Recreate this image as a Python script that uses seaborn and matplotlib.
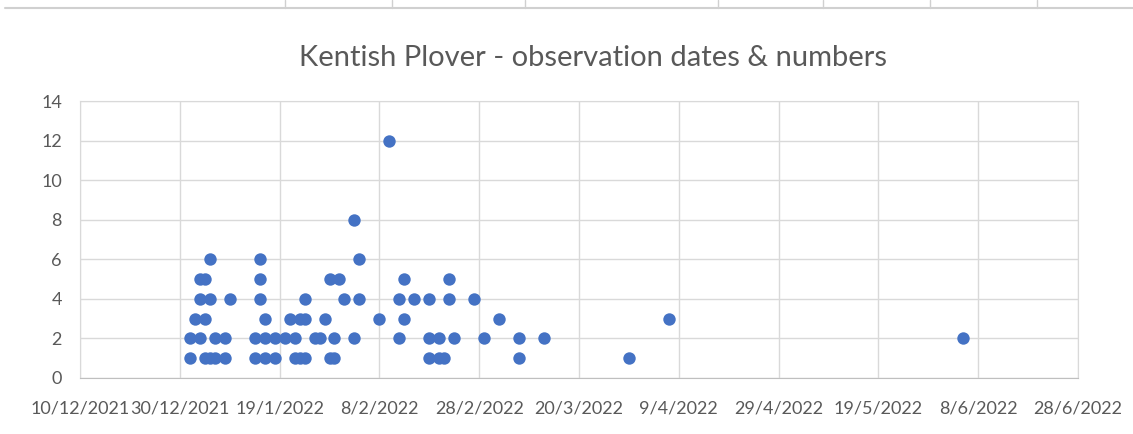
import pandas as pd
import matplotlib
matplotlib.use("Agg")
import matplotlib.pyplot as plt
import matplotlib.dates as mdates
from matplotlib.lines import Line2D
from matplotlib.ticker import FuncFormatter, MultipleLocator
import seaborn as sns

obs_dates = ["2022-01-01", "2022-01-01", "2022-01-02", "2022-01-03", "2022-01-03", "2022-01-03",
             "2022-01-04", "2022-01-04", "2022-01-04", "2022-01-05", "2022-01-05", "2022-01-05",
             "2022-01-06", "2022-01-06", "2022-01-08", "2022-01-08", "2022-01-09",
             "2022-01-14", "2022-01-14", "2022-01-15", "2022-01-15", "2022-01-15",
             "2022-01-16", "2022-01-16", "2022-01-16", "2022-01-18", "2022-01-18",
             "2022-01-20", "2022-01-21", "2022-01-22", "2022-01-22", "2022-01-23", "2022-01-23",
             "2022-01-24", "2022-01-24", "2022-01-24", "2022-01-26", "2022-01-27", "2022-01-28",
             "2022-01-29", "2022-01-29", "2022-01-30", "2022-01-30", "2022-01-31",
             "2022-02-01", "2022-02-03", "2022-02-03", "2022-02-04", "2022-02-04",
             "2022-02-08", "2022-02-10", "2022-02-12", "2022-02-12", "2022-02-13", "2022-02-13",
             "2022-02-15", "2022-02-18", "2022-02-18", "2022-02-18", "2022-02-20", "2022-02-20",
             "2022-02-21", "2022-02-22", "2022-02-22", "2022-02-23", "2022-02-27",
             "2022-03-01", "2022-03-04", "2022-03-08", "2022-03-08", "2022-03-13",
             "2022-03-30", "2022-04-07", "2022-06-05"]
obs_counts = [1, 2, 3, 2, 4, 5,
              1, 3, 5, 1, 4, 6,
              1, 2, 1, 2, 4,
              1, 2, 4, 5, 6,
              1, 2, 3, 1, 2,
              2, 3, 1, 2, 1, 3,
              1, 3, 4, 2, 2, 3,
              1, 5, 1, 2, 5,
              4, 2, 8, 4, 6,
              3, 12, 2, 4, 3, 5,
              4, 1, 2, 4, 1, 2,
              1, 4, 5, 2, 4,
              2, 3, 1, 2, 2,
              1, 3, 2]

df = pd.DataFrame({"date": pd.to_datetime(obs_dates), "count": obs_counts})

sns.set_style("white")
plt.rcParams["font.family"] = ["Lato", "DejaVu Sans"]
grey = "#595959"

fig = plt.figure(figsize=(11.33, 4.34), dpi=100)
ax = fig.add_axes([80 / 1133, 1 - 378 / 434, 998 / 1133, 277 / 434])

sns.scatterplot(data=df, x="date", y="count", ax=ax, color="#4472C4",
                s=80, linewidth=0, zorder=3)

# x axis runs 10/12/2021 .. 28/6/2022 with a gridline every 20 days
start = mdates.date2num(pd.Timestamp("2021-12-10"))
ax.set_xlim(start, start + 200)
ax.set_xticks([start + 20 * i for i in range(11)])
ax.set_ylim(0, 14)
ax.yaxis.set_major_locator(MultipleLocator(2))

def fmt_date(v, pos):
    d = mdates.num2date(v)
    return f"{d.day}/{d.month}/{d.year}"

ax.xaxis.set_major_formatter(FuncFormatter(fmt_date))
ax.grid(True, color="#d9d9d9", linewidth=1)
for s in ax.spines.values():
    s.set_color("#d9d9d9")
ax.spines["bottom"].set_color("#bfbfbf")
ax.tick_params(axis="both", length=0, colors=grey, labelsize=13)
ax.tick_params(axis="x", pad=16)
ax.tick_params(axis="y", pad=13)
ax.set_xlabel("")
ax.set_ylabel("")

fig.text(0.523, 1 - 58 / 434, "Kentish Plover - observation dates & numbers",
         ha="center", va="center", fontsize=21, color=grey)

# spreadsheet edge visible above the chart
fig.add_artist(Line2D([0.004, 1], [1 - 8 / 434] * 2, color="#d0d0d0", linewidth=1.5))
for px in [285, 392, 525, 718, 823, 930, 1037]:
    fig.add_artist(Line2D([px / 1133] * 2, [1 - 8 / 434, 1], color="#d0d0d0", linewidth=1))

fig.savefig("out.png", dpi=100)
